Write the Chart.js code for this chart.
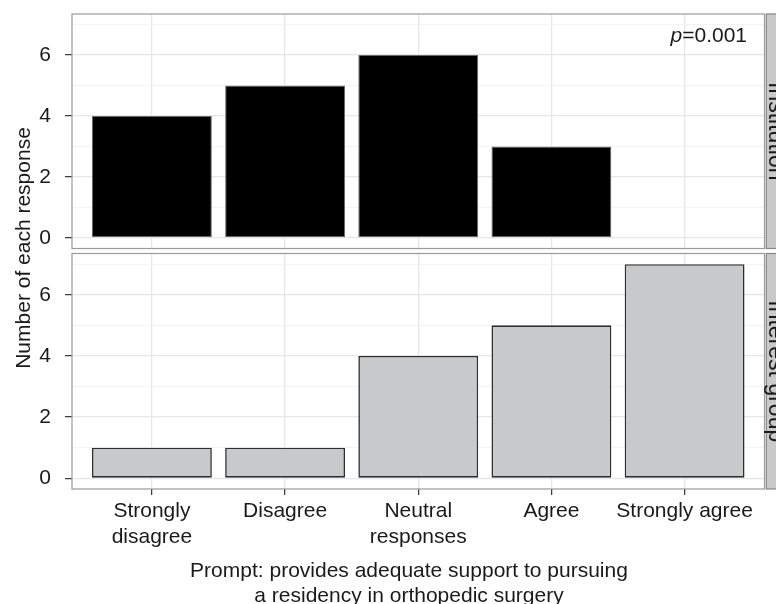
<!DOCTYPE html>
<html>
<head>
<meta charset="utf-8">
<script src="https://cdn.jsdelivr.net/npm/chart.js@4/dist/chart.umd.min.js"></script>
<style>
  html, body { margin: 0; padding: 0; background: #fff; width: 776px; height: 604px; overflow: hidden; }
  #wrap { position: relative; width: 776px; height: 604px; }
  canvas { position: absolute; left: 0; top: 0; }
</style>
</head>
<body>
<div id="wrap">
  <canvas id="lowerPanel" width="776" height="604"></canvas>
  <canvas id="upperPanel" width="776" height="252"></canvas>
</div>
<script>
// Likert response levels (x categories)
const responseLevels = [['Strongly', 'disagree'], 'Disagree', ['Neutral', 'responses'], 'Agree', 'Strongly agree'];
// Counts per response, one array per facet
const institutionCounts = [4, 5, 6, 3, 0];
const interestGroupCounts = [1, 1, 4, 5, 7];
const facetLabels = ['Institution', 'Interest group'];
// Labelled y ticks (odd values only get a minor grid line)
const yTickValues = [0, 2, 4, 6];
const pValue = '0.001';
const xTitleLines = ['Prompt: provides adequate support to pursuing', 'a residency in orthopedic surgery'];
const yTitle = 'Number of each response';

const FONT = '"Liberation Sans", Arial, Helvetica, sans-serif';
const TEXT = '#1a1a1a';

function isMajor(c) { return c.tick && yTickValues.includes(Math.round(c.tick.value)); }

function yScale() {
  return {
    type: 'linear', min: -0.35, max: 7.35,
    ticks: {
      stepSize: 1, includeBounds: false, padding: 14, color: TEXT,
      font: { family: FONT, size: 21 },
      callback: v => yTickValues.includes(Math.round(v)) ? String(Math.round(v)) : ''
    },
    grid: {
      color: c => isMajor(c) ? '#e6e6e6' : '#f3f3f3',
      lineWidth: c => isMajor(c) ? 1.3 : 1,
      tickColor: c => isMajor(c) ? '#333' : 'rgba(0,0,0,0)',
      tickLength: 7, tickWidth: 1.2
    },
    border: { display: false },
    afterFit(s) { s.width = 72; s.paddingTop = 0; s.paddingBottom = 0; }
  };
}

function xScale(showLabels, boxHeight) {
  return {
    type: 'linear', min: 0.4, max: 5.6, offset: false,
    ticks: {
      stepSize: 1, includeBounds: false, autoSkip: false, maxRotation: 0, minRotation: 0,
      display: showLabels, padding: 4, color: TEXT,
      font: { family: FONT, size: 21 },
      callback: v => responseLevels[Math.round(v) - 1]
    },
    grid: { offset: false, color: '#e6e6e6', lineWidth: 1.3, drawTicks: showLabels, tickColor: '#333', tickLength: 6, tickWidth: 1.2 },
    border: { display: false },
    afterFit(s) { s.height = boxHeight; s.paddingLeft = 0; s.paddingRight = 0; }
  };
}

function barData(values, fill, edge, edgeWidth) {
  return {
    datasets: [{
      data: values.map((v, i) => ({ x: i + 1, y: v })),
      backgroundColor: fill,
      borderColor: edge,
      borderWidth: c => (c.raw && c.raw.y === 0) ? 0 : edgeWidth,
      borderSkipped: false,
      barPercentage: 0.9,
      categoryPercentage: 1
    }]
  };
}

// Panel border plus the facet strip on the right edge
const facetFrame = {
  id: 'facetFrame',
  afterDatasetsDraw(chart, args, opts) {
    const { ctx, chartArea: a } = chart;
    ctx.save();
    ctx.strokeStyle = '#9a9a9a';
    ctx.lineWidth = 1.2;
    ctx.strokeRect(a.left, a.top, a.right - a.left, a.bottom - a.top);
    const sx = a.right + 1.8;
    ctx.fillStyle = '#c9c9c9';
    ctx.fillRect(sx, a.top, 40, a.bottom - a.top);
    ctx.strokeStyle = '#858585';
    ctx.lineWidth = 1.2;
    ctx.strokeRect(sx, a.top, 40, a.bottom - a.top);
    ctx.translate(769, (a.top + a.bottom) / 2);
    ctx.rotate(Math.PI / 2);
    ctx.font = '23px ' + FONT;
    ctx.fillStyle = TEXT;
    ctx.textAlign = 'center';
    ctx.textBaseline = 'alphabetic';
    ctx.fillText(opts.label, 0, 0);
    ctx.restore();
  }
};

// p-value note in the upper facet
const pNote = {
  id: 'pNote',
  afterDraw(chart) {
    const { ctx } = chart;
    ctx.save();
    ctx.fillStyle = TEXT;
    ctx.textBaseline = 'alphabetic';
    ctx.textAlign = 'right';
    ctx.font = '21px ' + FONT;
    const rest = '=' + pValue;
    ctx.fillText(rest, 747, 42);
    const w = ctx.measureText(rest).width;
    ctx.font = 'italic 21px ' + FONT;
    ctx.fillText('p', 747 - w, 42);
    ctx.restore();
  }
};

// Shared axis titles, drawn on the full-height lower canvas
const axisTitles = {
  id: 'axisTitles',
  afterDraw(chart) {
    const { ctx } = chart;
    ctx.save();
    ctx.fillStyle = TEXT;
    ctx.font = '21px ' + FONT;
    ctx.textAlign = 'center';
    ctx.textBaseline = 'alphabetic';
    ctx.fillText(xTitleLines[0], 409, 577);
    ctx.fillText(xTitleLines[1], 409, 602);
    ctx.translate(24, 248);
    ctx.rotate(-Math.PI / 2);
    ctx.textBaseline = 'middle';
    ctx.fillText(yTitle, 0, 0);
    ctx.restore();
  }
};

const common = {
  responsive: false,
  animation: false,
  devicePixelRatio: 1,
  plugins: { legend: { display: false }, tooltip: { enabled: false } }
};

new Chart(document.getElementById('lowerPanel'), {
  type: 'bar',
  data: barData(interestGroupCounts, '#c8c9cb', '#2e2e2e', 1.6),
  options: Object.assign({}, common, {
    layout: { padding: { top: 253.5, right: 11.5, left: 0, bottom: 0 } },
    scales: { x: xScale(true, 115), y: yScale() },
    plugins: Object.assign({}, common.plugins, { facetFrame: { label: facetLabels[1] } })
  }),
  plugins: [facetFrame, axisTitles]
});

new Chart(document.getElementById('upperPanel'), {
  type: 'bar',
  data: barData(institutionCounts, '#000000', '#6a6a6a', 1),
  options: Object.assign({}, common, {
    layout: { padding: { top: 14, right: 11.5, left: 0, bottom: 0 } },
    scales: { x: xScale(false, 3.5), y: yScale() },
    plugins: Object.assign({}, common.plugins, { facetFrame: { label: facetLabels[0] } })
  }),
  plugins: [facetFrame, pNote]
});
</script>
</body>
</html>
